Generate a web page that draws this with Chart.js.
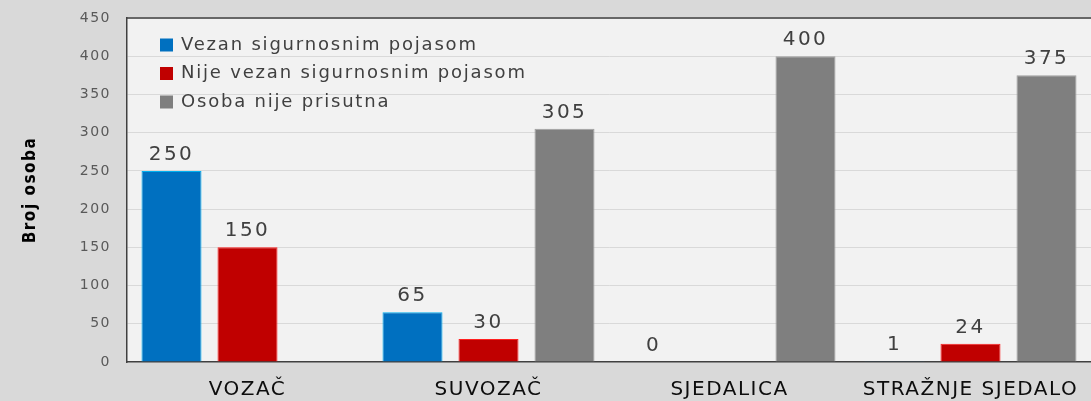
<!DOCTYPE html>
<html>
<head>
<meta charset="utf-8">
<script src="https://cdn.jsdelivr.net/npm/chart.js@4/dist/chart.umd.min.js"></script>
<style>
    html, body { margin: 0; padding: 0; background: #d9d9d9; }
    #wrap { width: 1091px; height: 401px; }
</style>
</head>
<body>
<div id="wrap"><canvas id="chart"></canvas></div>
<script>
// chart data
const categories = ['VOZAČ', 'SUVOZAČ', 'SJEDALICA', 'STRAŽNJE SJEDALO'];
const seriesNames = ['Vezan sigurnosnim pojasom', 'Nije vezan sigurnosnim pojasom', 'Osoba nije prisutna'];
const vezan = [250, 65, 0, 1];
const nijeVezan = [150, 30, null, 24];
const nijePrisutna = [null, 305, 400, 375];
const yTicks = [0, 50, 100, 150, 200, 250, 300, 350, 400, 450];

const fills = ['#0070c0', '#c00000', '#7f7f7f'];
const borders = ['#00b0f0', '#ff2020', '#a0a0a0'];

// plot background + frame line on top
const plotFrame = {
    id: 'plotFrame',
    beforeDraw(chart) {
        const { ctx, chartArea: a } = chart;
        ctx.letterSpacing = '1.5px';
        ctx.save();
        ctx.fillStyle = '#f2f2f2';
        ctx.fillRect(a.left, a.top, a.right - a.left, a.bottom - a.top);
        ctx.restore();
    },
    afterDraw(chart) {
        const { ctx, chartArea: a } = chart;
        ctx.save();
        ctx.strokeStyle = '#404040';
        ctx.lineWidth = 1.5;
        ctx.beginPath();
        ctx.moveTo(a.left, a.top);
        ctx.lineTo(a.right, a.top);
        ctx.stroke();
        ctx.restore();
    }
};

// legend drawn inside the plot, top-left
const innerLegend = {
    id: 'innerLegend',
    afterDraw(chart) {
        const { ctx } = chart;
        ctx.save();
        ctx.font = '18px "DejaVu Sans"';
        ctx.letterSpacing = '1.8px';
        ctx.textBaseline = 'middle';
        chart.data.datasets.forEach((ds, i) => {
            const y = 45 + i * 28.5;
            ctx.fillStyle = ds.backgroundColor;
            ctx.fillRect(160, y - 6.5, 13, 13);
            ctx.fillStyle = '#404040';
            ctx.fillText(ds.label, 181, y);
        });
        ctx.restore();
    }
};

// value labels above bars
const valueLabels = {
    id: 'valueLabels',
    afterDatasetsDraw(chart) {
        const { ctx } = chart;
        ctx.save();
        ctx.font = '20px "DejaVu Sans"';
        ctx.letterSpacing = '2.5px';
        ctx.fillStyle = '#404040';
        ctx.textAlign = 'center';
        ctx.textBaseline = 'alphabetic';
        chart.data.datasets.forEach((ds, i) => {
            chart.getDatasetMeta(i).data.forEach((bar, j) => {
                const v = ds.data[j];
                if (v === null) return;
                ctx.fillText(String(v), bar.x, bar.y - 11);
            });
        });
        ctx.restore();
    }
};

const datasets = [vezan, nijeVezan, nijePrisutna].map((data, i) => ({
    label: seriesNames[i],
    data: data,
    backgroundColor: fills[i],
    borderColor: borders[i],
    borderWidth: 1,
    categoryPercentage: 0.946,
    barPercentage: 0.79
}));

new Chart(document.getElementById('chart'), {
    type: 'bar',
    data: { labels: categories, datasets: datasets },
    options: {
        responsive: true,
        maintainAspectRatio: false,
        animation: false,
        layout: { padding: 0 },
        plugins: {
            legend: { display: false },
            tooltip: { enabled: false }
        },
        scales: {
            x: {
                grid: { display: false },
                border: { color: '#404040', width: 1.5 },
                ticks: {
                    color: '#0d0d0d',
                    font: { family: 'DejaVu Sans', size: 20 },
                    padding: 8,
                    maxRotation: 0
                },
                afterFit(s) { s.height = 39; }
            },
            y: {
                min: 0,
                max: 450,
                afterBuildTicks(s) { s.ticks = yTicks.map(v => ({ value: v })); },
                grid: { color: '#d9d9d9', lineWidth: 1, drawTicks: false },
                border: { color: '#404040', width: 1.5 },
                ticks: {
                    color: '#595959',
                    font: { family: 'DejaVu Sans', size: 14 },
                    padding: 16
                },
                title: {
                    display: true,
                    text: 'Broj osoba',
                    color: '#000000',
                    font: { family: '"DejaVu Sans Condensed", "Liberation Sans Narrow", "Liberation Sans", sans-serif', size: 17, weight: 'bold' },
                    padding: { top: 20, bottom: 0 }
                },
                afterFit(s) {
                    s.width = 127;
                    s.paddingTop = 18;
                    s.paddingBottom = 0;
                }
            }
        }
    },
    plugins: [plotFrame, innerLegend, valueLabels]
});
</script>
</body>
</html>
